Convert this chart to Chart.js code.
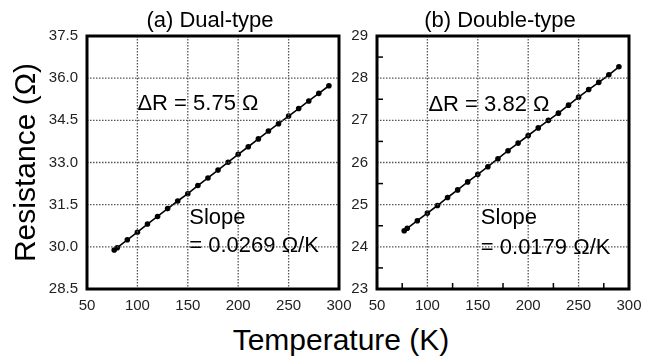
<!DOCTYPE html>
<html>
<head>
<meta charset="utf-8">
<script src="https://cdn.jsdelivr.net/npm/chart.js@4"></script>
<style>
  html, body { margin:0; padding:0; background:#fff; }
  #wrap { position:relative; width:653px; height:356px; overflow:hidden; font-family:"Liberation Sans", Arial, sans-serif; color:#000; }
  canvas { position:absolute; top:0; }
  #cA { left:0; }
  #cB { left:340px; }
  .lbl { position:absolute; white-space:nowrap; line-height:1; }
  .ttl { font-size:22px; top:9px; transform:translateX(-50%); }
  #xlab { font-size:30px; top:325px; left:341px; transform:translateX(-50%); }
</style>
</head>
<body>
<div id="wrap">
  <canvas id="cA" width="365" height="320"></canvas>
  <canvas id="cB" width="313" height="320"></canvas>
  <div class="lbl ttl" style="left:210px">(a) Dual-type</div>
  <div class="lbl ttl" style="left:500px">(b) Double-type</div>
  <div class="lbl" id="xlab">Temperature (K)</div>
</div>
<script>
const $ = (id) => document.getElementById(id);
const FONT = '"Liberation Sans", Arial, sans-serif';

// measured points, temperature in K
const temps   = [77, 80, 90, 100, 110, 120, 130, 140, 150, 160, 170, 180, 190, 200, 210, 220, 230, 240, 250, 260, 270, 280, 290];
// (a) Dual-type resistance, ohm
const dualR   = [29.89, 29.97, 30.25, 30.52, 30.81, 31.08, 31.36, 31.63, 31.89, 32.18, 32.45, 32.73, 33.01, 33.29, 33.56, 33.84, 34.12, 34.38, 34.65, 34.92, 35.19, 35.46, 35.73];
// (b) Double-type resistance, ohm
const doubleR = [24.38, 24.44, 24.62, 24.80, 24.98, 25.17, 25.35, 25.54, 25.72, 25.90, 26.09, 26.28, 26.46, 26.64, 26.82, 27.00, 27.17, 27.36, 27.55, 27.73, 27.90, 28.08, 28.27];

const xTicks = [50, 100, 150, 200, 250, 300];
const yTicksA = [28.5, 30.0, 31.5, 33.0, 34.5, 36.0, 37.5];
const yTicksB = [23, 24, 25, 26, 27, 28, 29];
const minorXB = [75, 125, 175, 225, 275];
const minorYB = [23.5, 24.5, 25.5, 26.5, 27.5, 28.5];

const notesA = [
  { text:'\u0394R = 5.75 \u03A9', x:100, y:34.87 },
  { text:'Slope', x:151.5, y:30.82 },
  { text:'= 0.0269 \u03A9/K', x:151.5, y:29.83 }
];
const notesB = [
  { text:'\u0394R = 3.82 \u03A9', x:101, y:27.21 },
  { text:'Slope', x:153, y:24.53 },
  { text:'= 0.0179 \u03A9/K', x:153, y:23.84 }
];

// dotted grid, frame, minor ticks and notes
function makeFrame(cfg){
  return {
    id:'frame',
    afterDraw(chart){
      const {ctx, chartArea:a, scales} = chart;
      ctx.save();
      ctx.strokeStyle = '#555'; ctx.lineWidth = 1.3; ctx.setLineDash([1.5,1.5]);
      cfg.xTicks.forEach(v=>{
        const px = scales.x.getPixelForValue(v);
        ctx.beginPath(); ctx.moveTo(px, a.top); ctx.lineTo(px, a.bottom); ctx.stroke();
      });
      cfg.yTicks.forEach(v=>{
        const py = scales.y.getPixelForValue(v);
        ctx.beginPath(); ctx.moveTo(a.left, py); ctx.lineTo(a.right, py); ctx.stroke();
      });
      ctx.setLineDash([]);
      ctx.strokeStyle = '#000'; ctx.lineWidth = 1.5;
      (cfg.minorX||[]).forEach(v=>{
        const px = scales.x.getPixelForValue(v);
        ctx.beginPath(); ctx.moveTo(px, a.bottom); ctx.lineTo(px, a.bottom-6); ctx.stroke();
      });
      (cfg.minorY||[]).forEach(v=>{
        const py = scales.y.getPixelForValue(v);
        ctx.beginPath(); ctx.moveTo(a.left, py); ctx.lineTo(a.left+6, py); ctx.stroke();
      });
      ctx.lineWidth = 3;
      ctx.strokeRect(a.left, a.top, a.right-a.left, a.bottom-a.top);
      ctx.fillStyle = '#000';
      ctx.font = '22px ' + FONT;
      ctx.textBaseline = 'alphabetic'; ctx.textAlign = 'left';
      cfg.notes.forEach(n=>{
        ctx.fillText(n.text, scales.x.getPixelForValue(n.x), scales.y.getPixelForValue(n.y));
      });
      ctx.restore();
    }
  };
}

function makePanel(canvas, values, yTicks, yFmt, opts){
  const pts = temps.map((t,i)=>({ x:t, y:values[i] }));
  return new Chart(canvas, {
    type:'scatter',
    data:{ datasets:[{ data:pts, showLine:true, borderColor:'#000', borderWidth:1.6, pointRadius:2.8, pointBackgroundColor:'#000', pointBorderWidth:0, tension:0 }] },
    options:{
      responsive:false, animation:false, events:[],
      layout:{ padding:{ top:36, right:opts.padRight, left:0, bottom:0 } },
      plugins:{ legend:{display:false}, tooltip:{enabled:false} },
      scales:{
        x:{
          type:'linear', min:xTicks[0], max:xTicks[xTicks.length-1],
          afterBuildTicks: s => { s.ticks = xTicks.map(v=>({value:v})); },
          afterFit: s => { s.height = 31; },
          grid:{ display:false, drawTicks:false },
          border:{ display:false },
          ticks:{ color:'#222', padding:8, maxRotation:0, autoSkip:false, font:{ family:FONT, size:15 } }
        },
        y:{
          type:'linear', min:yTicks[0], max:yTicks[yTicks.length-1],
          afterBuildTicks: s => { s.ticks = yTicks.map(v=>({value:v})); },
          afterFit: s => { s.width = opts.yWidth; },
          grid:{ display:false, drawTicks:false },
          border:{ display:false },
          ticks:{ color:'#222', padding:9, autoSkip:false, font:{ family:FONT, size:15 }, callback: v => yFmt(v) },
          title:{ display:!!opts.yTitle, text:opts.yTitle || '', color:'#000', padding:{top:9, bottom:0}, font:{ family:FONT, size:30, weight:'normal' } }
        }
      }
    },
    plugins:[makeFrame({ xTicks, yTicks, notes:opts.notes, minorX:opts.minorX, minorY:opts.minorY })]
  });
}

window.addEventListener('DOMContentLoaded', ()=>{
  makePanel($('cA'), dualR, yTicksA, v=>Number(v).toFixed(1), { padRight:26, yWidth:87, yTitle:'Resistance (\u03A9)', notes:notesA });
  makePanel($('cB'), doubleR, yTicksB, v=>String(v), { padRight:24, yWidth:37, notes:notesB, minorX:minorXB, minorY:minorYB });
});
</script>
</body>
</html>
